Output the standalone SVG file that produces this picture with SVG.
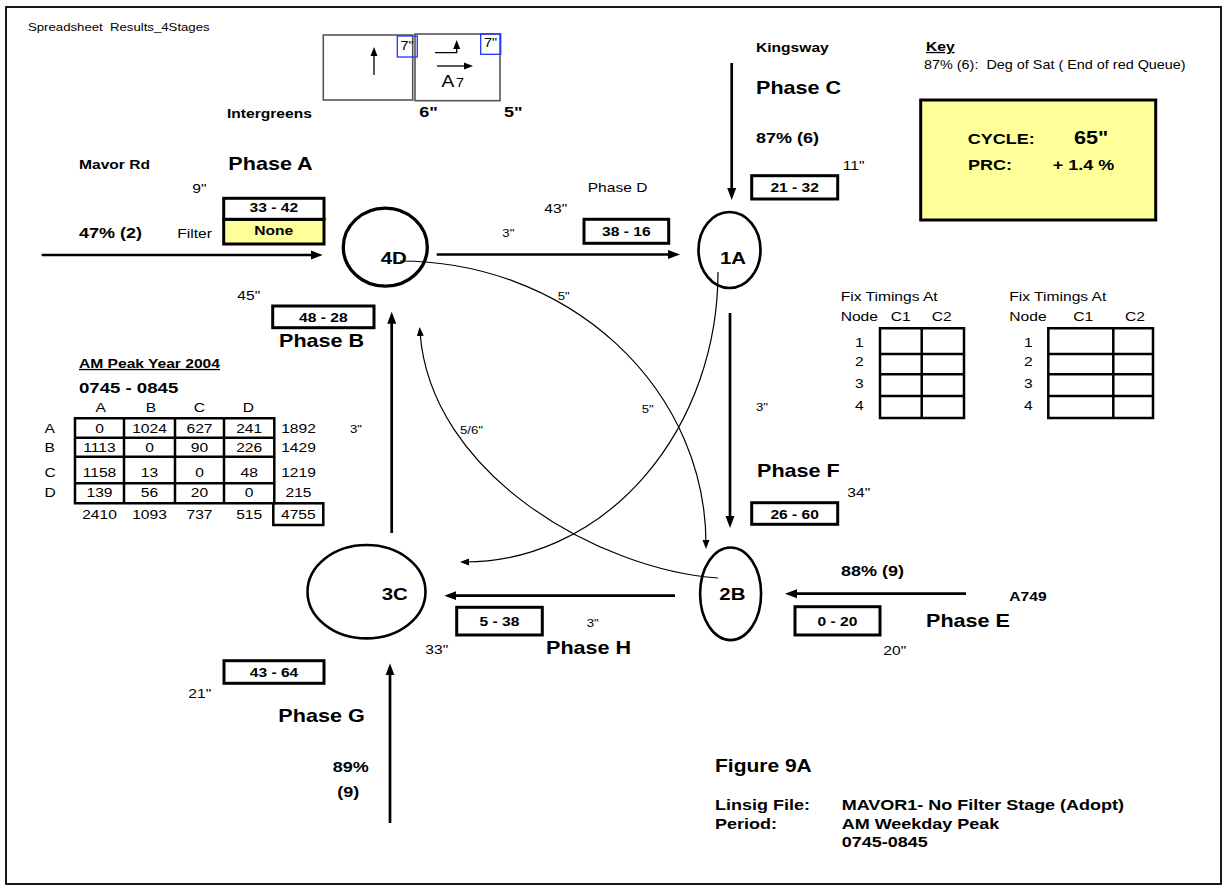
<svg xmlns="http://www.w3.org/2000/svg" width="1223" height="886" viewBox="0 0 1223 886">
<style>
.t{font-family:"Liberation Sans",Arial,Helvetica,sans-serif;fill:#000}
.b{font-weight:bold}
.f11{font-size:11px}.f12{font-size:12px}.f13{font-size:13px}.f15{font-size:15px}.f155{font-size:15.5px}.f16{font-size:16px}.f17{font-size:17px}.f175{font-size:17.5px}.f18{font-size:18px}
.m{text-anchor:middle}
.u{text-decoration:underline}
.node{fill:none;stroke:#000}
.box{fill:#fff;stroke:#000;stroke-width:3}
.thick{stroke:#000;stroke-width:2.7;fill:none}
.thin{stroke:#000;stroke-width:1.2;fill:none}
.grid{fill:none;stroke:#000;stroke-width:2.5}
.ig{fill:none;stroke:#555;stroke-width:1.6}
.blue{fill:none;stroke:#2233ff;stroke-width:1.3}
</style>
<defs>
<marker id="ah" markerUnits="userSpaceOnUse" markerWidth="13" markerHeight="10" refX="6" refY="5" orient="auto"><path d="M0,0.5 L12,5 L0,9.5 z" fill="#000"/></marker>
<marker id="ahs" markerUnits="userSpaceOnUse" markerWidth="10" markerHeight="8" refX="4" refY="4" orient="auto"><path d="M0,0.5 L9,4 L0,7.5 z" fill="#000"/></marker>
</defs>
<rect x="6" y="7" width="1215" height="877" fill="#fff" stroke="#000" stroke-width="1.8"/>

<text class="t f11" xml:space="preserve" transform="matrix(1.2 0 0 1 28 31)">Spreadsheet  Results_4Stages</text>

<!-- Intergreens -->
<g id="intergreens">
<rect class="ig" x="323.3" y="35" width="89.4" height="65"/>
<rect class="ig" x="415" y="34" width="85" height="66.7"/>
<rect class="blue" x="397.3" y="36" width="20" height="21"/>
<rect class="blue" x="480.7" y="34" width="20" height="20.3"/>
<text class="t f12" transform="matrix(1.2 0 0 1 400.5 50)">7"</text>
<text class="t f12" transform="matrix(1.2 0 0 1 484 47)">7"</text>
<path d="M374,75 V52" stroke="#000" stroke-width="1.3" marker-end="url(#ahs)"/>
<path d="M435,52.7 H456.7 V45" fill="none" stroke="#000" stroke-width="1.3" marker-end="url(#ahs)"/>
<path d="M437,66 H468" stroke="#000" stroke-width="1.3" marker-end="url(#ahs)"/>
<text class="t f16" transform="matrix(1.2 0 0 1 441.5 87)">A</text>
<text class="t f12" transform="matrix(1.2 0 0 1 456 87)">7</text>
<text class="t b f13" transform="matrix(1.2 0 0 1 227 118)">Intergreens</text>
<text class="t b f15" transform="matrix(1.2 0 0 1 419.3 117)">6"</text>
<text class="t b f15" transform="matrix(1.2 0 0 1 504 117)">5"</text>
</g>

<!-- Key and cycle -->
<g id="key">
<text class="t b f13 u" transform="matrix(1.2 0 0 1 926 51)">Key</text>
<text class="t f12" xml:space="preserve" transform="matrix(1.2 0 0 1 924 69)">87% (6):  Deg of Sat ( End of red Queue)</text>
</g>
<g id="cycle-box">
<rect x="920.7" y="100" width="235" height="120" fill="#ffff99" stroke="#000" stroke-width="3"/>
<text class="t b f15" transform="matrix(1.2 0 0 1 967.7 144)">CYCLE:</text>
<text class="t b f18" transform="matrix(1.2 0 0 1 1074 144)">65"</text>
<text class="t b f15" transform="matrix(1.2 0 0 1 968 170)">PRC:</text>
<text class="t b f15" transform="matrix(1.2 0 0 1 1052.7 170)">+ 1.4 %</text>
</g>

<!-- Nodes -->
<g id="node-4D">
<ellipse class="node" cx="385.3" cy="247.2" rx="42" ry="39" stroke-width="3.3"/>
<text class="t b f17" transform="matrix(1.2 0 0 1 380.7 264)">4D</text>
</g>
<g id="node-1A">
<ellipse class="node" cx="729.5" cy="250" rx="31" ry="38" stroke-width="2.7"/>
<text class="t b f17" transform="matrix(1.2 0 0 1 720 264)">1A</text>
</g>
<g id="node-2B">
<ellipse class="node" cx="730.6" cy="593.8" rx="30.5" ry="46.3" stroke-width="2.6"/>
<text class="t b f17" transform="matrix(1.2 0 0 1 719.3 600)">2B</text>
</g>
<g id="node-3C">
<ellipse class="node" cx="366.5" cy="591.7" rx="59" ry="46.7" stroke-width="2.6"/>
<text class="t b f17" transform="matrix(1.2 0 0 1 381.7 600)">3C</text>
</g>

<!-- Connectors -->
<g id="connectors">
<path class="thick" d="M41.7,255 H316.7" marker-end="url(#ah)"/>
<path class="thick" d="M436.7,254.5 H674" marker-end="url(#ah)"/>
<path class="thick" d="M731.7,63 V194" marker-end="url(#ah)"/>
<path class="thick" d="M730,313 V522" marker-end="url(#ah)"/>
<path class="thick" d="M966,593.7 H791" marker-end="url(#ah)"/>
<path class="thick" d="M675,595.7 H450.3" marker-end="url(#ah)"/>
<path class="thick" d="M391.7,533 V317.7" marker-end="url(#ah)"/>
<path class="thick" d="M390,823 V669.3" marker-end="url(#ah)"/>
<path class="thin" d="M400,261 A306,283 0 0 1 706,544" marker-end="url(#ahs)"/>
<path class="thin" d="M718,272 A253,290 0 0 1 465,562" marker-end="url(#ahs)"/>
<path class="thin" d="M718,578 C600,570 430,475 420,332" marker-end="url(#ahs)"/>
</g>

<!-- Phase A / Mavor Rd -->
<g id="phase-A">
<text class="t b f13" transform="matrix(1.2 0 0 1 79 169)">Mavor Rd</text>
<text class="t b f18" transform="matrix(1.2 0 0 1 228.3 170)">Phase A</text>
<text class="t f13" transform="matrix(1.2 0 0 1 192.3 193)">9"</text>
<rect x="223.7" y="219.3" width="100.3" height="24.7" fill="#ffff99" stroke="#000" stroke-width="3"/>
<rect x="223.7" y="198.3" width="100.3" height="21" fill="#fff" stroke="#000" stroke-width="3"/>
<text class="t b f13 m" transform="matrix(1.2 0 0 1 273.8 212)">33 - 42</text>
<text class="t b f13 m" transform="matrix(1.2 0 0 1 273.8 235)">None</text>
<text class="t b f15" transform="matrix(1.2 0 0 1 79 238)">47% (2)</text>
<text class="t f13" transform="matrix(1.2 0 0 1 177.3 238)">Filter</text>
</g>

<g id="phase-B">
<text class="t f13" transform="matrix(1.2 0 0 1 237.3 300)">45"</text>
<rect class="box" x="272.7" y="306" width="101.3" height="21.7"/>
<text class="t b f13 m" transform="matrix(1.2 0 0 1 323.3 322)">48 - 28</text>
<text class="t b f18" transform="matrix(1.2 0 0 1 279 347)">Phase B</text>
</g>

<g id="phase-C">
<text class="t b f13" transform="matrix(1.2 0 0 1 756 52)">Kingsway</text>
<text class="t b f18" transform="matrix(1.2 0 0 1 756 94)">Phase C</text>
<text class="t b f15" transform="matrix(1.2 0 0 1 756 143)">87% (6)</text>
<text class="t f13" transform="matrix(1.2 0 0 1 842.7 170)">11"</text>
<rect class="box" x="751.7" y="175.7" width="86" height="23.3"/>
<text class="t b f13 m" transform="matrix(1.2 0 0 1 794.7 192)">21 - 32</text>
</g>

<g id="phase-D">
<text class="t f13" transform="matrix(1.2 0 0 1 587.7 192)">Phase D</text>
<text class="t f13" transform="matrix(1.2 0 0 1 544.3 213)">43"</text>
<text class="t f11" transform="matrix(1.2 0 0 1 502.3 237)">3"</text>
<rect class="box" x="584" y="219.3" width="84.7" height="24"/>
<text class="t b f13 m" transform="matrix(1.2 0 0 1 626.3 236)">38 - 16</text>
</g>

<g id="curve-labels">
<text class="t f11" transform="matrix(1.2 0 0 1 557.7 300)">5"</text>
<text class="t f11" transform="matrix(1.2 0 0 1 641.7 413)">5"</text>
<text class="t f11" transform="matrix(1.2 0 0 1 460 434)">5/6"</text>
<text class="t f11" transform="matrix(1.2 0 0 1 756 411)">3"</text>
<text class="t f11" transform="matrix(1.2 0 0 1 350 433)">3"</text>
</g>

<g id="phase-F">
<text class="t b f18" transform="matrix(1.2 0 0 1 757 477)">Phase F</text>
<text class="t f13" transform="matrix(1.2 0 0 1 847.3 497)">34"</text>
<rect class="box" x="751.7" y="502.7" width="86" height="21.6"/>
<text class="t b f13 m" transform="matrix(1.2 0 0 1 794.7 519)">26 - 60</text>
</g>

<g id="phase-E">
<text class="t b f15" transform="matrix(1.2 0 0 1 841 576)">88% (9)</text>
<text class="t b f13" transform="matrix(1.2 0 0 1 1009.3 601)">A749</text>
<rect class="box" x="795" y="606.7" width="85" height="28.3"/>
<text class="t b f13 m" transform="matrix(1.2 0 0 1 837.5 626)">0 - 20</text>
<text class="t b f18" transform="matrix(1.2 0 0 1 926 627)">Phase E</text>
<text class="t f13" transform="matrix(1.2 0 0 1 883.3 655)">20"</text>
</g>

<g id="phase-H">
<rect class="box" x="456.7" y="607.3" width="85.6" height="27.7"/>
<text class="t b f13 m" transform="matrix(1.2 0 0 1 499.5 626)">5 - 38</text>
<text class="t f11" transform="matrix(1.2 0 0 1 586.7 627)">3"</text>
<text class="t f13" transform="matrix(1.2 0 0 1 425.3 654)">33"</text>
<text class="t b f18" transform="matrix(1.2 0 0 1 546 654)">Phase H</text>
</g>

<g id="phase-G">
<rect class="box" x="224" y="660.7" width="100" height="22.6"/>
<text class="t b f13 m" transform="matrix(1.2 0 0 1 274 677)">43 - 64</text>
<text class="t f13" transform="matrix(1.2 0 0 1 188.3 698)">21"</text>
<text class="t b f18" transform="matrix(1.2 0 0 1 278.3 722)">Phase G</text>
<text class="t b f15" transform="matrix(1.2 0 0 1 332.7 772)">89%</text>
<text class="t b f15" transform="matrix(1.2 0 0 1 337.3 797)">(9)</text>
</g>

<!-- OD table -->
<g id="od-table">
<text class="t b f13 u" transform="matrix(1.2 0 0 1 79 368)">AM Peak Year 2004</text>
<text class="t b f155" transform="matrix(1.2 0 0 1 79 393)">0745 - 0845</text>
<g class="t f13 m">
<text transform="matrix(1.2 0 0 1 100.7 412)">A</text>
<text transform="matrix(1.2 0 0 1 151 412)">B</text>
<text transform="matrix(1.2 0 0 1 199.3 412)">C</text>
<text transform="matrix(1.2 0 0 1 248.3 412)">D</text>
</g>
<g class="t f13">
<text transform="matrix(1.2 0 0 1 44.5 433)">A</text>
<text transform="matrix(1.2 0 0 1 44.5 452)">B</text>
<text transform="matrix(1.2 0 0 1 44.5 477)">C</text>
<text transform="matrix(1.2 0 0 1 44.5 497)">D</text>
</g>
<path class="grid" d="M75,418.3 H274.3 V503.3 H75 Z M124,418.3 V503.3 M175,418.3 V503.3 M224,418.3 V503.3 M75,437.7 H274.3 M75,456.7 H274.3 M75,483.3 H274.3"/>
<rect class="grid" x="273.3" y="503.3" width="50" height="21.7"/>
<g class="t f13 m">
<text transform="matrix(1.2 0 0 1 99.5 433)">0</text>
<text transform="matrix(1.2 0 0 1 149.5 433)">1024</text>
<text transform="matrix(1.2 0 0 1 199.5 433)">627</text>
<text transform="matrix(1.2 0 0 1 249.2 433)">241</text>
<text transform="matrix(1.2 0 0 1 298.5 433)">1892</text>
<text transform="matrix(1.2 0 0 1 99.5 452)">1113</text>
<text transform="matrix(1.2 0 0 1 149.5 452)">0</text>
<text transform="matrix(1.2 0 0 1 199.5 452)">90</text>
<text transform="matrix(1.2 0 0 1 249.2 452)">226</text>
<text transform="matrix(1.2 0 0 1 298.5 452)">1429</text>
<text transform="matrix(1.2 0 0 1 99.5 477)">1158</text>
<text transform="matrix(1.2 0 0 1 149.5 477)">13</text>
<text transform="matrix(1.2 0 0 1 199.5 477)">0</text>
<text transform="matrix(1.2 0 0 1 249.2 477)">48</text>
<text transform="matrix(1.2 0 0 1 298.5 477)">1219</text>
<text transform="matrix(1.2 0 0 1 99.5 497)">139</text>
<text transform="matrix(1.2 0 0 1 149.5 497)">56</text>
<text transform="matrix(1.2 0 0 1 199.5 497)">20</text>
<text transform="matrix(1.2 0 0 1 249.2 497)">0</text>
<text transform="matrix(1.2 0 0 1 298.5 497)">215</text>
<text transform="matrix(1.2 0 0 1 99.5 518.5)">2410</text>
<text transform="matrix(1.2 0 0 1 149.5 518.5)">1093</text>
<text transform="matrix(1.2 0 0 1 199.5 518.5)">737</text>
<text transform="matrix(1.2 0 0 1 249.2 518.5)">515</text>
<text transform="matrix(1.2 0 0 1 298.3 518.5)">4755</text>
</g>
</g>

<!-- Fix timings tables -->
<g id="fix-timings-1">
<g class="t f13">
<text transform="matrix(1.2 0 0 1 840.7 301)">Fix Timings At</text>
<text transform="matrix(1.2 0 0 1 840.7 321)">Node</text>
<text transform="matrix(1.2 0 0 1 890.7 321)">C1</text>
<text transform="matrix(1.2 0 0 1 931.7 321)">C2</text>
</g>
<g class="t f13 m">
<text transform="matrix(1.2 0 0 1 859.3 347)">1</text>
<text transform="matrix(1.2 0 0 1 859.3 366)">2</text>
<text transform="matrix(1.2 0 0 1 859.3 388.3)">3</text>
<text transform="matrix(1.2 0 0 1 859.3 410)">4</text>
</g>
<path class="grid" d="M880,328.3 H964 V418 H880 Z M921.7,328.3 V418 M880,354 H964 M880,374.3 H964 M880,396 H964"/>
</g>
<g id="fix-timings-2">
<g class="t f13">
<text transform="matrix(1.2 0 0 1 1009.3 301)">Fix Timings At</text>
<text transform="matrix(1.2 0 0 1 1009.3 321)">Node</text>
<text transform="matrix(1.2 0 0 1 1073.3 321)">C1</text>
<text transform="matrix(1.2 0 0 1 1125 321)">C2</text>
</g>
<g class="t f13 m">
<text transform="matrix(1.2 0 0 1 1028.3 347)">1</text>
<text transform="matrix(1.2 0 0 1 1028.3 366)">2</text>
<text transform="matrix(1.2 0 0 1 1028.3 388.3)">3</text>
<text transform="matrix(1.2 0 0 1 1028.3 410)">4</text>
</g>
<path class="grid" d="M1048.3,328.3 H1153 V418 H1048.3 Z M1113.3,328.3 V418 M1048.3,354 H1153 M1048.3,374.3 H1153 M1048.3,396 H1153"/>
</g>

<!-- Caption -->
<g id="caption">
<text class="t b f175" transform="matrix(1.2 0 0 1 715 772)">Figure 9A</text>
<text class="t b f15" transform="matrix(1.2 0 0 1 715 810)">Linsig File:</text>
<text class="t b f15" transform="matrix(1.2 0 0 1 841.7 810)">MAVOR1- No Filter Stage (Adopt)</text>
<text class="t b f15" transform="matrix(1.2 0 0 1 715 828.5)">Period:</text>
<text class="t b f15" transform="matrix(1.2 0 0 1 841.7 828.5)">AM Weekday Peak</text>
<text class="t b f15" transform="matrix(1.2 0 0 1 841.7 847)">0745-0845</text>
</g>
</svg>
